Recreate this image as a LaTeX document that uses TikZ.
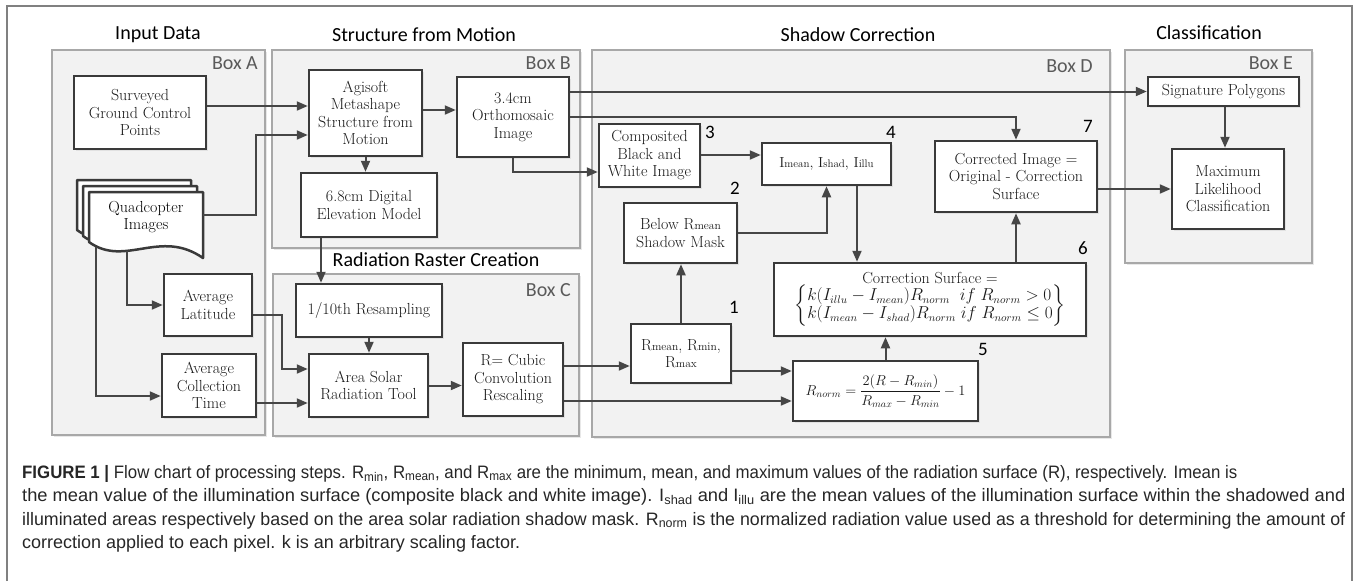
\documentclass[tikz,border=0pt]{standalone}
\usepackage{fontspec}
\usepackage{amsmath}
\usepackage{graphicx}
\usetikzlibrary{arrows.meta,shadows}

\newfontfamily\headfont{Carlito}
\newfontfamily\capfont{Liberation Sans}

\definecolor{panelfill}{HTML}{F2F2F2}
\definecolor{paneledge}{HTML}{A8A8A8}
\definecolor{boxedge}{HTML}{3A3A3A}
\definecolor{flowgray}{HTML}{464646}
\definecolor{labelgray}{HTML}{5A5A5A}
\definecolor{framegray}{HTML}{808080}

\newcommand{\lo}[1]{{\fontsize{11.5}{12}\selectfont #1}}

\tikzset{
	panel/.style={draw=paneledge, fill=panelfill, line width=2pt, drop shadow={shadow xshift=1.5pt, shadow yshift=-1.5pt, opacity=0.18}},
	procbox/.style={draw=boxedge, fill=white, line width=2.5pt, inner sep=0pt, align=center, text=black!90, font=\fontsize{16}{17.5}\selectfont, drop shadow={shadow xshift=2pt, shadow yshift=-2pt, opacity=0.15}},
	docpage/.style={draw=boxedge, fill=white, line width=2.5pt, line join=round},
	flow/.style={->, draw=flowgray, line width=2pt},
	paneltitle/.style={font=\headfont\fontsize{20}{22}\selectfont, text=black},
	boxlabel/.style={font=\headfont\fontsize{20}{22}\selectfont, text=labelgray, anchor=east, inner sep=0pt},
	stepnum/.style={font=\headfont\fontsize{19}{20}\selectfont, text=black, inner sep=0pt},
	capline/.style={font=\capfont\fontsize{18}{23}\selectfont, text=black!85, anchor=base west, inner sep=0pt}
}

\begin{document}
\begin{tikzpicture}[x=1pt, y=-1pt, >={Triangle[length=11pt,width=9pt]}]
	\useasboundingbox (0,0) rectangle (1356,581);
	\draw[framegray, line width=1.2pt] (7,581) -- (7,6) -- (1352,6) -- (1352,581);

	\draw[panel] (52,50) rectangle (265,435);
	\draw[panel] (272,50) rectangle (580,248);
	\draw[panel] (273,274) rectangle (579,436);
	\draw[panel] (592,50) rectangle (1110,437);
	\draw[panel] (1125,50) rectangle (1312,263);

	\node[paneltitle] (ttlinput) at (158,35) {Input Data};
	\node[paneltitle] (ttlsfm) at (424,35) {Structure from Motion};
	\node[paneltitle] (ttlshadow) at (858,35) {Shadow Correction};
	\node[paneltitle] (ttlclass) at (1209,33) {Classification};
	\node[paneltitle] (ttlraster) at (436,260) {Radiation Raster Creation};

	\node[boxlabel] (lblA) at (258,63) {Box A};
	\node[boxlabel] (lblB) at (571,63) {Box B};
	\node[boxlabel] (lblC) at (571,290) {Box C};
	\node[boxlabel] (lblD) at (1093,66) {Box D};
	\node[boxlabel] (lblE) at (1293,63) {Box E};

	\node[procbox, minimum width=132pt, minimum height=73pt] (gcp) at (140,112.5) {Surveyed\\Ground Control\\Points};
	\foreach \d in {12,6,0}
		\draw[docpage] (89-\d,242-\d) -- (89-\d,192-\d) -- (203-\d,192-\d) -- (203-\d,258-\d) .. controls (160-\d,228-\d) and (125-\d,268-\d) .. cycle;
	\node[align=center, font=\fontsize{16}{17.5}\selectfont] (quad) at (146,217) {Quadcopter\\Images};
	\coordinate[](quadR) at (203,215);
	\coordinate[](quadB1) at (127,251);
	\coordinate[](quadB2) at (96,246.5);
	\node[procbox, minimum width=88pt, minimum height=62pt] (lat) at (208,305) {Average\\Latitude};
	\node[procbox, minimum width=94pt, minimum height=63pt] (colltime) at (209,385.5) {Average\\Collection\\Time};

	\node[procbox, minimum width=113pt, minimum height=86pt] (agisoft) at (365.5,113) {Agisoft\\Metashape\\Structure from\\Motion};
	\node[procbox, minimum width=112pt, minimum height=80pt] (ortho) at (513,117) {3.4cm\\Orthomosaic\\Image};
	\node[procbox, minimum width=136pt, minimum height=64pt] (dem) at (369,205) {6.8cm Digital\\Elevation Model};

	\node[procbox, minimum width=146pt, minimum height=53pt] (resamp) at (369,310.5) {1/10th Resampling};
	\node[procbox, minimum width=119pt, minimum height=63pt] (solar) at (368.5,385.5) {Area Solar\\Radiation Tool};
	\node[procbox, minimum width=100pt, minimum height=73pt] (cubic) at (513,379.5) {R= Cubic\\Convolution\\Rescaling};

	\node[procbox, minimum width=101pt, minimum height=63pt] (bw) at (649.5,155.5) {Composited\\Black and\\White Image};
	\node[procbox, minimum width=129pt, minimum height=42pt, font=\fontsize{14.5}{17}\selectfont] (imean) at (826.5,164) {I{\fontsize{11}{12}\selectfont mean}, I{\fontsize{11}{12}\selectfont shad}, I{\fontsize{11}{12}\selectfont illu}};
	\node[procbox, minimum width=113pt, minimum height=60pt] (mask) at (680.5,233) {Below R\lo{mean}\\Shadow Mask};
	\node[procbox, minimum width=100pt, minimum height=59pt] (rstats) at (681,353.5) {R\lo{mean}, R\lo{min},\\R\lo{max}};
	\node[procbox, minimum width=185pt, minimum height=60pt, font=\fontsize{14.5}{16}\selectfont] (rnorm) at (885.5,391) {$R_{norm}=\dfrac{2(R-R_{min})}{R_{max}-R_{min}}-1$};
	\node[procbox, minimum width=312pt, minimum height=73pt] (corrsurf) at (930,299.5) {Correction Surface =\\$\left\{\begin{array}{@{}l@{}}k(I_{illu}-I_{mean})R_{norm}\ \ if\ R_{norm}>0\\k(I_{mean}-I_{shad})R_{norm}\ if\ R_{norm}\le 0\end{array}\right\}$};
	\node[procbox, minimum width=162pt, minimum height=71pt] (corrimg) at (1016,176.5) {Corrected Image =\\Original - Correction\\Surface};

	\node[procbox, minimum width=151pt, minimum height=29pt] (sigpoly) at (1223.5,91.5) {Signature Polygons};
	\node[procbox, minimum width=112pt, minimum height=80pt] (mlc) at (1228,189) {Maximum\\Likelihood\\Classification};

	\node[stepnum] (num1) at (734,307) {1};
	\node[stepnum] (num2) at (735,188) {2};
	\node[stepnum] (num3) at (710,132) {3};
	\node[stepnum] (num4) at (891,132) {4};
	\node[stepnum] (num5) at (983,349) {5};
	\node[stepnum] (num6) at (1083,248) {6};
	\node[stepnum] (num7) at (1088,126) {7};

	\draw[flow] (gcp.east |- 0,106) -- (agisoft.west |- 0,106);
	\draw[flow] (quadR) -- (256,215) |- (agisoft.west |- 0,135);
	\draw[flow] (agisoft.east |- 0,110) -- (ortho.west |- 0,110);
	\draw[flow] (agisoft.south) -- (agisoft.south |- dem.north);
	\draw[flow] (dem.south -| 321,0) -- (resamp.north -| 321,0);
	\draw[flow] (resamp.south) -- (resamp.south |- solar.north);
	\draw[flow] (quadB1) |- (lat.west);
	\draw[flow] (quadB2) |- (colltime.west |- 0,396);
	\draw[flow] (lat.east |- 0,315) -| (282,369) -- (solar.west |- 0,369);
	\draw[flow] (colltime.east |- 0,403) -- (solar.west |- 0,403);
	\draw[flow] (solar.east) -- (solar.east -| cubic.west);
	\draw[flow] (cubic.east |- 0,366) -- (rstats.west |- 0,366);
	\draw[flow] (cubic.east |- 0,401) -- (rnorm.west |- 0,401);
	\draw[flow] (rstats.east |- 0,371) -- (rnorm.west |- 0,371);
	\draw[flow] (rstats.north) -- (rstats.north |- mask.south);
	\draw[flow] (mask.east) -| (imean.south);
	\draw[flow] (ortho.south) |- (bw.west |- 0,172);
	\draw[flow] (bw.east |- 0,155) -- (imean.west |- 0,155);
	\draw[flow] (imean.south -| 857,0) -- (corrsurf.north -| 857,0);
	\draw[flow] (ortho.east |- sigpoly.west) -- (sigpoly.west);
	\draw[flow] (ortho.east) -| (corrimg.north);
	\draw[flow] (rnorm.north) -- (rnorm.north |- corrsurf.south);
	\draw[flow] (corrimg.south |- corrsurf.north) -- (corrimg.south);
	\draw[flow] (corrimg.east |- mlc.west) -- (mlc.west);
	\draw[flow] (sigpoly.south -| 1225,0) -- (mlc.north -| 1225,0);

	\node[capline] (cap1) at (22,478) {\resizebox{1215pt}{\height}{\textbf{FIGURE 1} \textbf{|} Flow chart of processing steps. R\textsubscript{min}, R\textsubscript{mean}, and R\textsubscript{max} are the minimum, mean, and maximum values of the radiation surface (R), respectively. Imean is}};
	\node[capline] (cap2) at (22,501.5) {\resizebox{1323pt}{\height}{the mean value of the illumination surface (composite black and white image). I\textsubscript{shad} and I\textsubscript{illu} are the mean values of the illumination surface within the shadowed and}};
	\node[capline] (cap3) at (22,525) {\resizebox{1323pt}{\height}{illuminated areas respectively based on the area solar radiation shadow mask. R\textsubscript{norm} is the normalized radiation value used as a threshold for determining the amount of}};
	\node[capline] (cap4) at (22,548.5) {correction applied to each pixel. k is an arbitrary scaling factor.};
\end{tikzpicture}
\end{document}
